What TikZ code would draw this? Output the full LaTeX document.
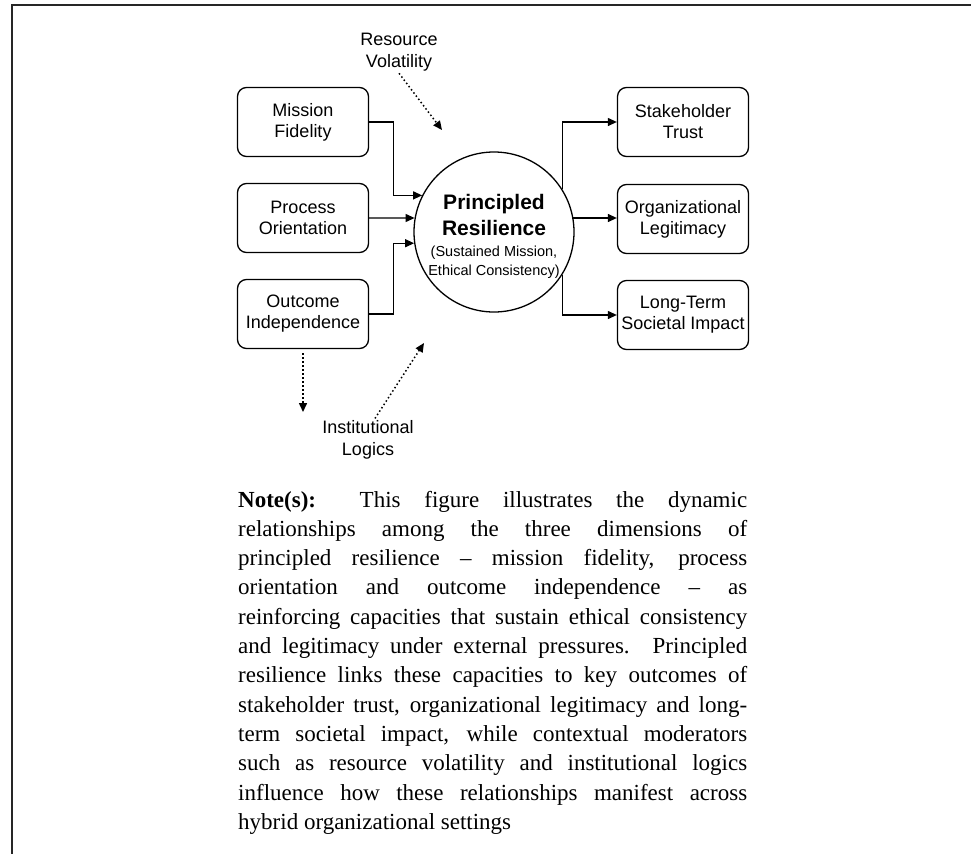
\documentclass[tikz,border=0pt]{standalone}
\usepackage{fontspec}
\setmainfont{Liberation Sans}
\newfontfamily\notefont{Liberation Serif}
\usetikzlibrary{arrows.meta}

\tikzset{
  box/.style={draw, rounded corners=9pt, line width=1.3pt, minimum width=131pt, minimum height=69pt, align=center, font=\fontsize{18}{21}\selectfont, inner sep=0pt},
  lbl/.style={align=center, font=\fontsize{18}{22}\selectfont, inner sep=2pt},
  arr/.style={-{Triangle[length=9pt,width=8pt]}, line width=1.2pt},
  dotarr/.style={-{Triangle[length=9pt,width=8pt]}, line width=1.5pt, dash pattern=on 1.5pt off 2.5pt},
  noteline/.style={anchor=base west, inner sep=0pt, font=\notefont\fontsize{23}{29}\selectfont}
}

\begin{document}
\begin{tikzpicture}[x=1pt,y=-1pt]
\useasboundingbox (0,0) rectangle (971,854);
\draw[line width=2.5pt, color=black!85] (971,5) -- (12,5) -- (12,854);

\foreach \n/\y/\t in {mf/122/{Mission\\Fidelity}, po/218/{Process\\Orientation}, oi/314/{Outcome\\Independence}}
    \node[box] (\n) at (303,\y) {\t};
\foreach \n/\y/\t in {st/122/{Stakeholder\\Trust}, ol/219/{Organizational\\Legitimacy}, lt/315/{Long-Term\\Societal Impact}}
    \node[box] (\n) at (683,\y) {\t};

\node[draw, circle, minimum size=160pt, inner sep=0pt, line width=1.3pt] (pr) at (494,232) {};
\node[align=center, font=\fontsize{21}{26}\selectfont\bfseries] (prtitle) at (494,215) {Principled\\Resilience};
\node[align=center, font=\fontsize{14.5}{18.5}\selectfont] (prsub) at (494,262) {(Sustained Mission,\\Ethical Consistency)};

\draw[arr] (mf.east) -- ++(24,0) |- (pr.153);
\draw[arr] (po.east) -- (pr.170);
\draw[arr] (oi.east) -- ++(24,0) |- (pr.188);

\draw[arr] (pr.32) |- (st.west);
\draw[arr] (pr.10) -- (pr.10 -| ol.west);
\draw[arr] (pr.-32) |- (lt.west);

\node[lbl] (rv) at (399,52) {Resource\\Volatility};
\coordinate (rvtip) at (442,130);
\draw[dotarr] (rv.south) -- (rvtip);

\coordinate (oitip) at (303,412);
\draw[dotarr, shorten <=4pt] (oi.south) -- (oitip);

\node[lbl] (il) at (368,440) {Institutional\\Logics};
\coordinate (iltip) at (424,343);
\draw[dotarr] ([xshift=7pt]il.north) -- (iltip);

\foreach \l [count=\i from 0] in {{\textbf{Note(s):} This figure illustrates the dynamic},
    {relationships among the three dimensions of},
    {principled resilience – mission fidelity, process},
    {orientation and outcome independence – as},
    {reinforcing capacities that sustain ethical consistency},
    {and legitimacy under external pressures. Principled},
    {resilience links these capacities to key outcomes of},
    {stakeholder trust, organizational legitimacy and long-},
    {term societal impact, while contextual moderators},
    {such as resource volatility and institutional logics},
    {influence how these relationships manifest across},
    {hybrid organizational settings\hfill}}
    \node[noteline] (note\i) at (238,507+29.3*\i) {\makebox[509pt][s]{\l}};

\end{tikzpicture}
\end{document}
